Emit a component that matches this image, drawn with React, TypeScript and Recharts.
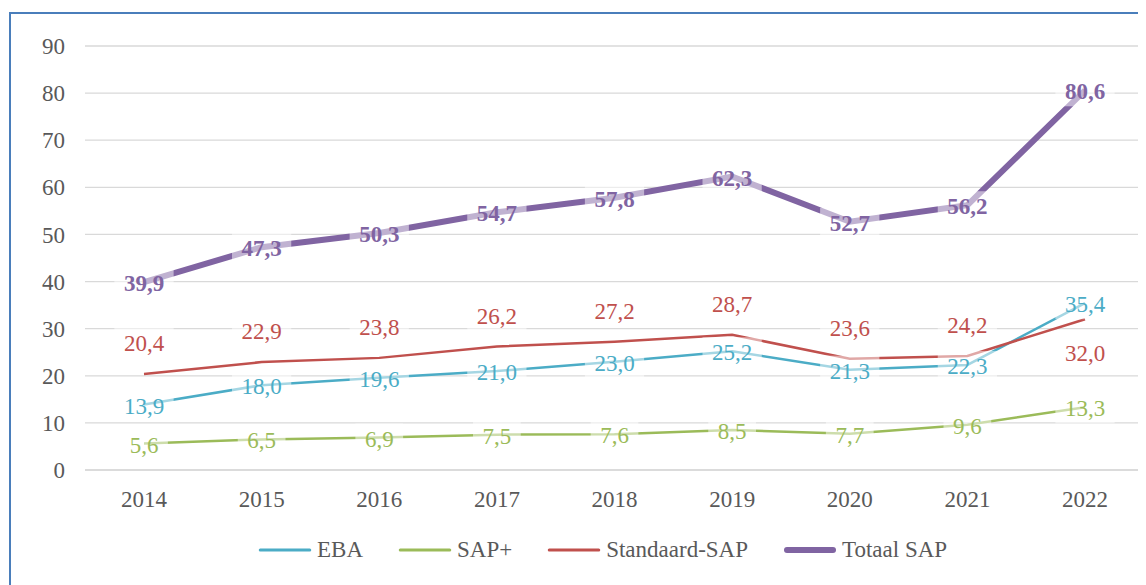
import React from 'react';
import { LineChart, Line, XAxis, YAxis, CartesianGrid, Legend, LabelList } from 'recharts';

const years = ['2014', '2015', '2016', '2017', '2018', '2019', '2020', '2021', '2022'];
const ebaValues = [13.9, 18.0, 19.6, 21.0, 23.0, 25.2, 21.3, 22.3, 35.4];
const sapPlusValues = [5.6, 6.5, 6.9, 7.5, 7.6, 8.5, 7.7, 9.6, 13.3];
const standaardValues = [20.4, 22.9, 23.8, 26.2, 27.2, 28.7, 23.6, 24.2, 32.0];
const totaalValues = [39.9, 47.3, 50.3, 54.7, 57.8, 62.3, 52.7, 56.2, 80.6];
const yTicks = [0, 10, 20, 30, 40, 50, 60, 70, 80, 90];

const data = years.map((year, i) => ({
  year,
  eba: ebaValues[i],
  sapPlus: sapPlusValues[i],
  standaard: standaardValues[i],
  totaal: totaalValues[i],
}));

const FONT = '"Liberation Serif", "Times New Roman", Times, serif';
const TEXT_COLOR = '#595959';
const FS = 23;

const series = [
  { key: 'eba', name: 'EBA', color: '#4BACC6', width: 2.5 },
  { key: 'sapPlus', name: 'SAP+', color: '#9BBB59', width: 2.5 },
  { key: 'standaard', name: 'Standaard-SAP', color: '#C0504D', width: 2.5 },
  { key: 'totaal', name: 'Totaal SAP', color: '#8064A2', width: 6 },
];

const fmt = (v: number) => v.toFixed(1).replace('.', ',');

function textWidth(s: string) {
  let w = 0;
  for (const ch of s) w += ch === ',' ? 0.25 : 0.5;
  return w * FS;
}

function makeLabel(color: string, bold: boolean, mode: 'center' | 'redAbove') {
  return (props: any) => {
    const x = props.x ?? props.viewBox?.x;
    const y = props.y ?? props.viewBox?.y;
    const value = props.value;
    const index = props.index;
    if (x == null || y == null || value == null) return null;
    const s = fmt(Number(value));
    let cy = y + 1;
    if (mode === 'redAbove') {
      const last = index === years.length - 1 || (index == null && Number(value) === standaardValues[standaardValues.length - 1]);
      cy = last ? y + 33.5 : y - 31;
    }
    const tw = textWidth(s);
    const bw = tw + 19;
    const bh = 30;
    return (
      <g key={`lbl-${mode}-${color}-${index}`}>
        <rect x={x - bw / 2} y={cy - bh / 2} width={bw} height={bh} fill="#FFFFFF" fillOpacity={0.5} />
        <text
          x={x}
          y={cy}
          dy="0.35em"
          textAnchor="middle"
          fill={color}
          fontSize={FS}
          fontFamily={FONT}
          fontWeight={bold ? 'bold' : 'normal'}
        >
          {s}
        </text>
      </g>
    );
  };
}

const renderLegend = () => (
  <div style={{ display: 'flex', alignItems: 'center', height: 30, fontFamily: FONT, fontSize: FS, color: TEXT_COLOR, whiteSpace: 'nowrap' }}>
    {series.map((s) => (
      <div key={s.key} style={{ display: 'flex', alignItems: 'center', marginRight: 35 }}>
        <svg width={54} height={10} style={{ display: 'block' }}>
          <line x1={s.width / 2 + 1} y1={5} x2={53 - s.width / 2} y2={5} stroke={s.color} strokeWidth={s.key === 'totaal' ? 6 : 3} strokeLinecap="round" />
        </svg>
        <span style={{ marginLeft: 5, lineHeight: '30px' }}>{s.name}</span>
      </div>
    ))}
  </div>
);

export default function App() {
  return (
    <div style={{ position: 'relative', width: 1138, height: 577, overflow: 'hidden' }}>
      <div
        style={{
          position: 'absolute',
          left: 1,
          top: 4,
          width: 1300,
          height: 800,
          border: '2px solid #4A7EBB',
          boxSizing: 'border-box',
        }}
      />
      <div style={{ position: 'absolute', left: 0, top: 0 }}>
        <LineChart width={1138} height={577} data={data} margin={{ top: 38, right: 2, bottom: 0, left: 0 }}>
          <CartesianGrid vertical={false} stroke="#D9D9D9" strokeWidth={1.3} />
          <XAxis
            dataKey="year"
            interval={0}
            padding={{ left: 59, right: 59 }}
            axisLine={{ stroke: '#D9D9D9', strokeWidth: 1.3 }}
            tickLine={false}
            tickSize={0}
            tickMargin={21}
            height={85}
            tick={{ fill: TEXT_COLOR, fontSize: FS, fontFamily: FONT }}
          />
          <YAxis
            domain={[0, 90]}
            ticks={yTicks}
            interval={0}
            width={77}
            axisLine={false}
            tickLine={false}
            tickSize={0}
            tickMargin={20}
            tick={{ fill: TEXT_COLOR, fontSize: FS, fontFamily: FONT }}
          />
          <Legend
            verticalAlign="bottom"
            content={renderLegend}
            wrapperStyle={{ position: 'absolute', left: 250, top: 527, width: 780, height: 30 }}
          />
          {series.map((s) => (
            <Line
              key={s.key}
              type="linear"
              dataKey={s.key}
              name={s.name}
              stroke={s.color}
              strokeWidth={s.width}
              dot={false}
              activeDot={false}
              isAnimationActive={false}
            />
          ))}
          <Line dataKey="sapPlus" stroke="none" dot={false} activeDot={false} legendType="none" isAnimationActive={false}>
            <LabelList dataKey="sapPlus" content={makeLabel('#9BBB59', false, 'center')} />
          </Line>
          <Line dataKey="eba" stroke="none" dot={false} activeDot={false} legendType="none" isAnimationActive={false}>
            <LabelList dataKey="eba" content={makeLabel('#4BACC6', false, 'center')} />
          </Line>
          <Line dataKey="standaard" stroke="none" dot={false} activeDot={false} legendType="none" isAnimationActive={false}>
            <LabelList dataKey="standaard" content={makeLabel('#C0504D', false, 'redAbove')} />
          </Line>
          <Line dataKey="totaal" stroke="none" dot={false} activeDot={false} legendType="none" isAnimationActive={false}>
            <LabelList dataKey="totaal" content={makeLabel('#8064A2', true, 'center')} />
          </Line>
        </LineChart>
      </div>
    </div>
  );
}
